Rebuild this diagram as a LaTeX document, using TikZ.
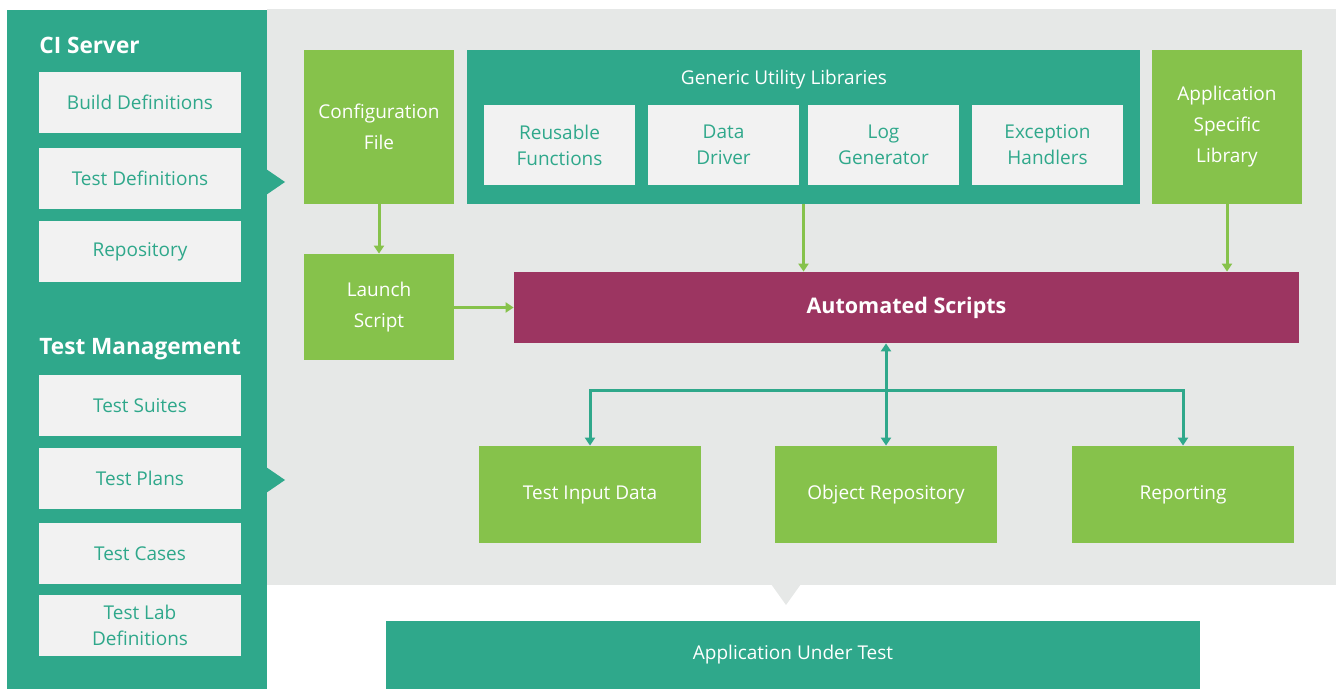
\documentclass[tikz,border=0pt]{standalone}
\usepackage{fontspec}
\setmainfont{Open Sans}
\usepackage{tikz}
\usetikzlibrary{arrows.meta}
\definecolor{tealc}{HTML}{2FA88B}
\definecolor{greenc}{HTML}{86C24B}
\definecolor{grayc}{HTML}{E6E8E7}
\definecolor{boxc}{HTML}{F2F2F2}
\definecolor{plumc}{HTML}{9C3561}
\tikzset{
  lightbox/.style={fill=boxc, text=tealc, inner sep=0pt, align=center, minimum width=101pt, minimum height=30.5pt, font=\fontsize{9.5}{13}\selectfont},
  innerbox/.style={fill=boxc, text=tealc, inner sep=0pt, align=center, minimum width=75.5pt, minimum height=40pt, font=\fontsize{9.5}{13}\selectfont},
  greenbox/.style={fill=greenc, text=white, inner sep=0pt, align=center, font=\fontsize{9.5}{15.5}\selectfont},
  title/.style={text=white, inner sep=0pt, anchor=base west, font=\fontsize{11.3}{13}\selectfont\bfseries},
  greenarrow/.style={draw=greenc, line width=1.5pt, -{Triangle[width=5pt,length=4pt]}},
  tealarrow/.style={draw=tealc, line width=1.5pt, -{Triangle[width=5pt,length=4pt]}},
}
\begin{document}
\begin{tikzpicture}[x=0.5pt, y=-0.5pt]
        \useasboundingbox (0,0) rectangle (1336,689);

        % panels
        \fill[grayc] (267,9) rectangle (1336,585);
        \fill[grayc] (771,584) -- (786,605) -- (801,584) -- cycle;
        \fill[tealc] (7,10) rectangle (267,689);
        \fill[tealc] (266,169) -- (285,182) -- (266,195) -- cycle;
        \fill[tealc] (266,467) -- (285,480) -- (266,493) -- cycle;

        % left column
        \node[title] at (39,54)   (ci) {CI Server};
        \node[lightbox] at (140,102.5)   (build) {Build Definitions};
        \node[lightbox] at (140,178.5)   (testdef) {Test Definitions};
        \node[lightbox] at (140,251.5)   (repo) {Repository};
        \node[title] at (39,354)   (tm) {Test Management};
        \node[lightbox] at (140,405.5)   (suites) {Test Suites};
        \node[lightbox] at (140,478.5)   (plans) {Test Plans};
        \node[lightbox] at (140,553.5)   (cases) {Test Cases};
        \node[lightbox] at (140,625.5)   (lab) {Test Lab\\Definitions};

        % framework
        \node[greenbox, minimum width=75pt, minimum height=77pt] at (379,127)   (config) {Configuration\\File};
        \node[greenbox, minimum width=75pt, minimum height=53pt] at (379,307)   (launch) {Launch\\Script};
        \node[fill=tealc, minimum width=336.5pt, minimum height=77pt] at (803.5,127)   (generic) {};
        \node[text=white, font=\fontsize{9.5}{13}\selectfont] at (784,80)   (generictitle) {Generic Utility Libraries};
        \node[innerbox] at (559.5,145)   (reusable) {Reusable\\Functions};
        \node[innerbox] at (723.5,145)   (driver) {Data\\Driver};
        \node[innerbox] at (883.5,145)   (loggen) {Log\\Generator};
        \node[innerbox] at (1047.5,145)   (exception) {Exception\\Handlers};
        \node[greenbox, minimum width=75pt, minimum height=77pt] at (1227,127)   (appspec) {Application\\Specific\\Library};
        \node[fill=plumc, text=white, minimum width=392.5pt, minimum height=35.5pt, font=\fontsize{10.75}{13}\selectfont\bfseries] at (906.5,307.5)   (scripts) {Automated Scripts};

        \node[greenbox, minimum width=111pt, minimum height=48.5pt] at (590,494.5)   (input) {Test Input Data};
        \node[greenbox, minimum width=111pt, minimum height=48.5pt] at (886,494.5)   (objrepo) {Object Repository};
        \node[greenbox, minimum width=111pt, minimum height=48.5pt] at (1183,494.5)   (reporting) {Reporting};

        \node[fill=tealc, text=white, minimum width=407pt, minimum height=34pt, font=\fontsize{9.5}{13}\selectfont] at (793,655)   (aut) {Application Under Test};

        % connectors
        \coordinate (bus) at (886,390);
        \draw[greenarrow] (config) -- (launch);
        \draw[greenarrow] (launch.east |- scripts.west) -- (scripts.west);
        \draw[greenarrow] (generic.south) -- (generic.south |- scripts.north);
        \draw[greenarrow] (appspec.south) -- (appspec.south |- scripts.north);
        \draw[tealarrow, {Triangle[width=5pt,length=4pt]}-{Triangle[width=5pt,length=4pt]}] (objrepo.north |- scripts.south) -- (objrepo.north);
        \draw[tealarrow] (bus) -| (input.north);
        \draw[tealarrow] (bus) -| (reporting.north);
\end{tikzpicture}
\end{document}
